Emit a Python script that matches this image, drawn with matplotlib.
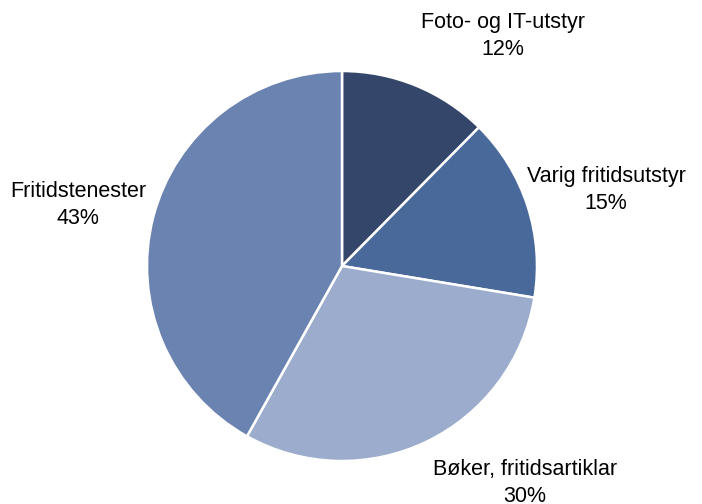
import matplotlib
matplotlib.use("Agg")
import matplotlib.pyplot as plt

categories = ["Foto- og IT-utstyr", "Varig fritidsutstyr", "Bøker, fritidsartiklar", "Fritidstenester"]
values = [12.4, 15.2, 30.5, 41.9]
pct_labels = ["12%", "15%", "30%", "43%"]
colors = ["#34476a", "#4a699b", "#9baccd", "#6a83b1"]

plt.rcParams['font.family'] = ['Liberation Sans', 'DejaVu Sans']

fig = plt.figure(figsize=(7.02, 5.04), dpi=100)
cx, cy, r = 342, 266, 195
W, H = 702, 504
ax = fig.add_axes([(cx - r) / W, (H - cy - r) / H, 2 * r / W, 2 * r / H])
ax.pie(values, colors=colors, startangle=90, counterclock=False,
       wedgeprops=dict(edgecolor="white", linewidth=1.8))
ax.set_xlim(-1, 1)
ax.set_ylim(-1, 1)
ax.set_aspect('auto')

label_pos = [(503, 36), (606, 190), (525, 483), (78, 205)]
for name, p, (px, py) in zip(categories, pct_labels, label_pos):
    ax.text((px - cx) / r, (cy - py) / r, f"{name}\n{p}", ha="center", va="center",
            fontsize=15.5, linespacing=1.38, color="black", clip_on=False)

fig.savefig("out.png", dpi=100)
